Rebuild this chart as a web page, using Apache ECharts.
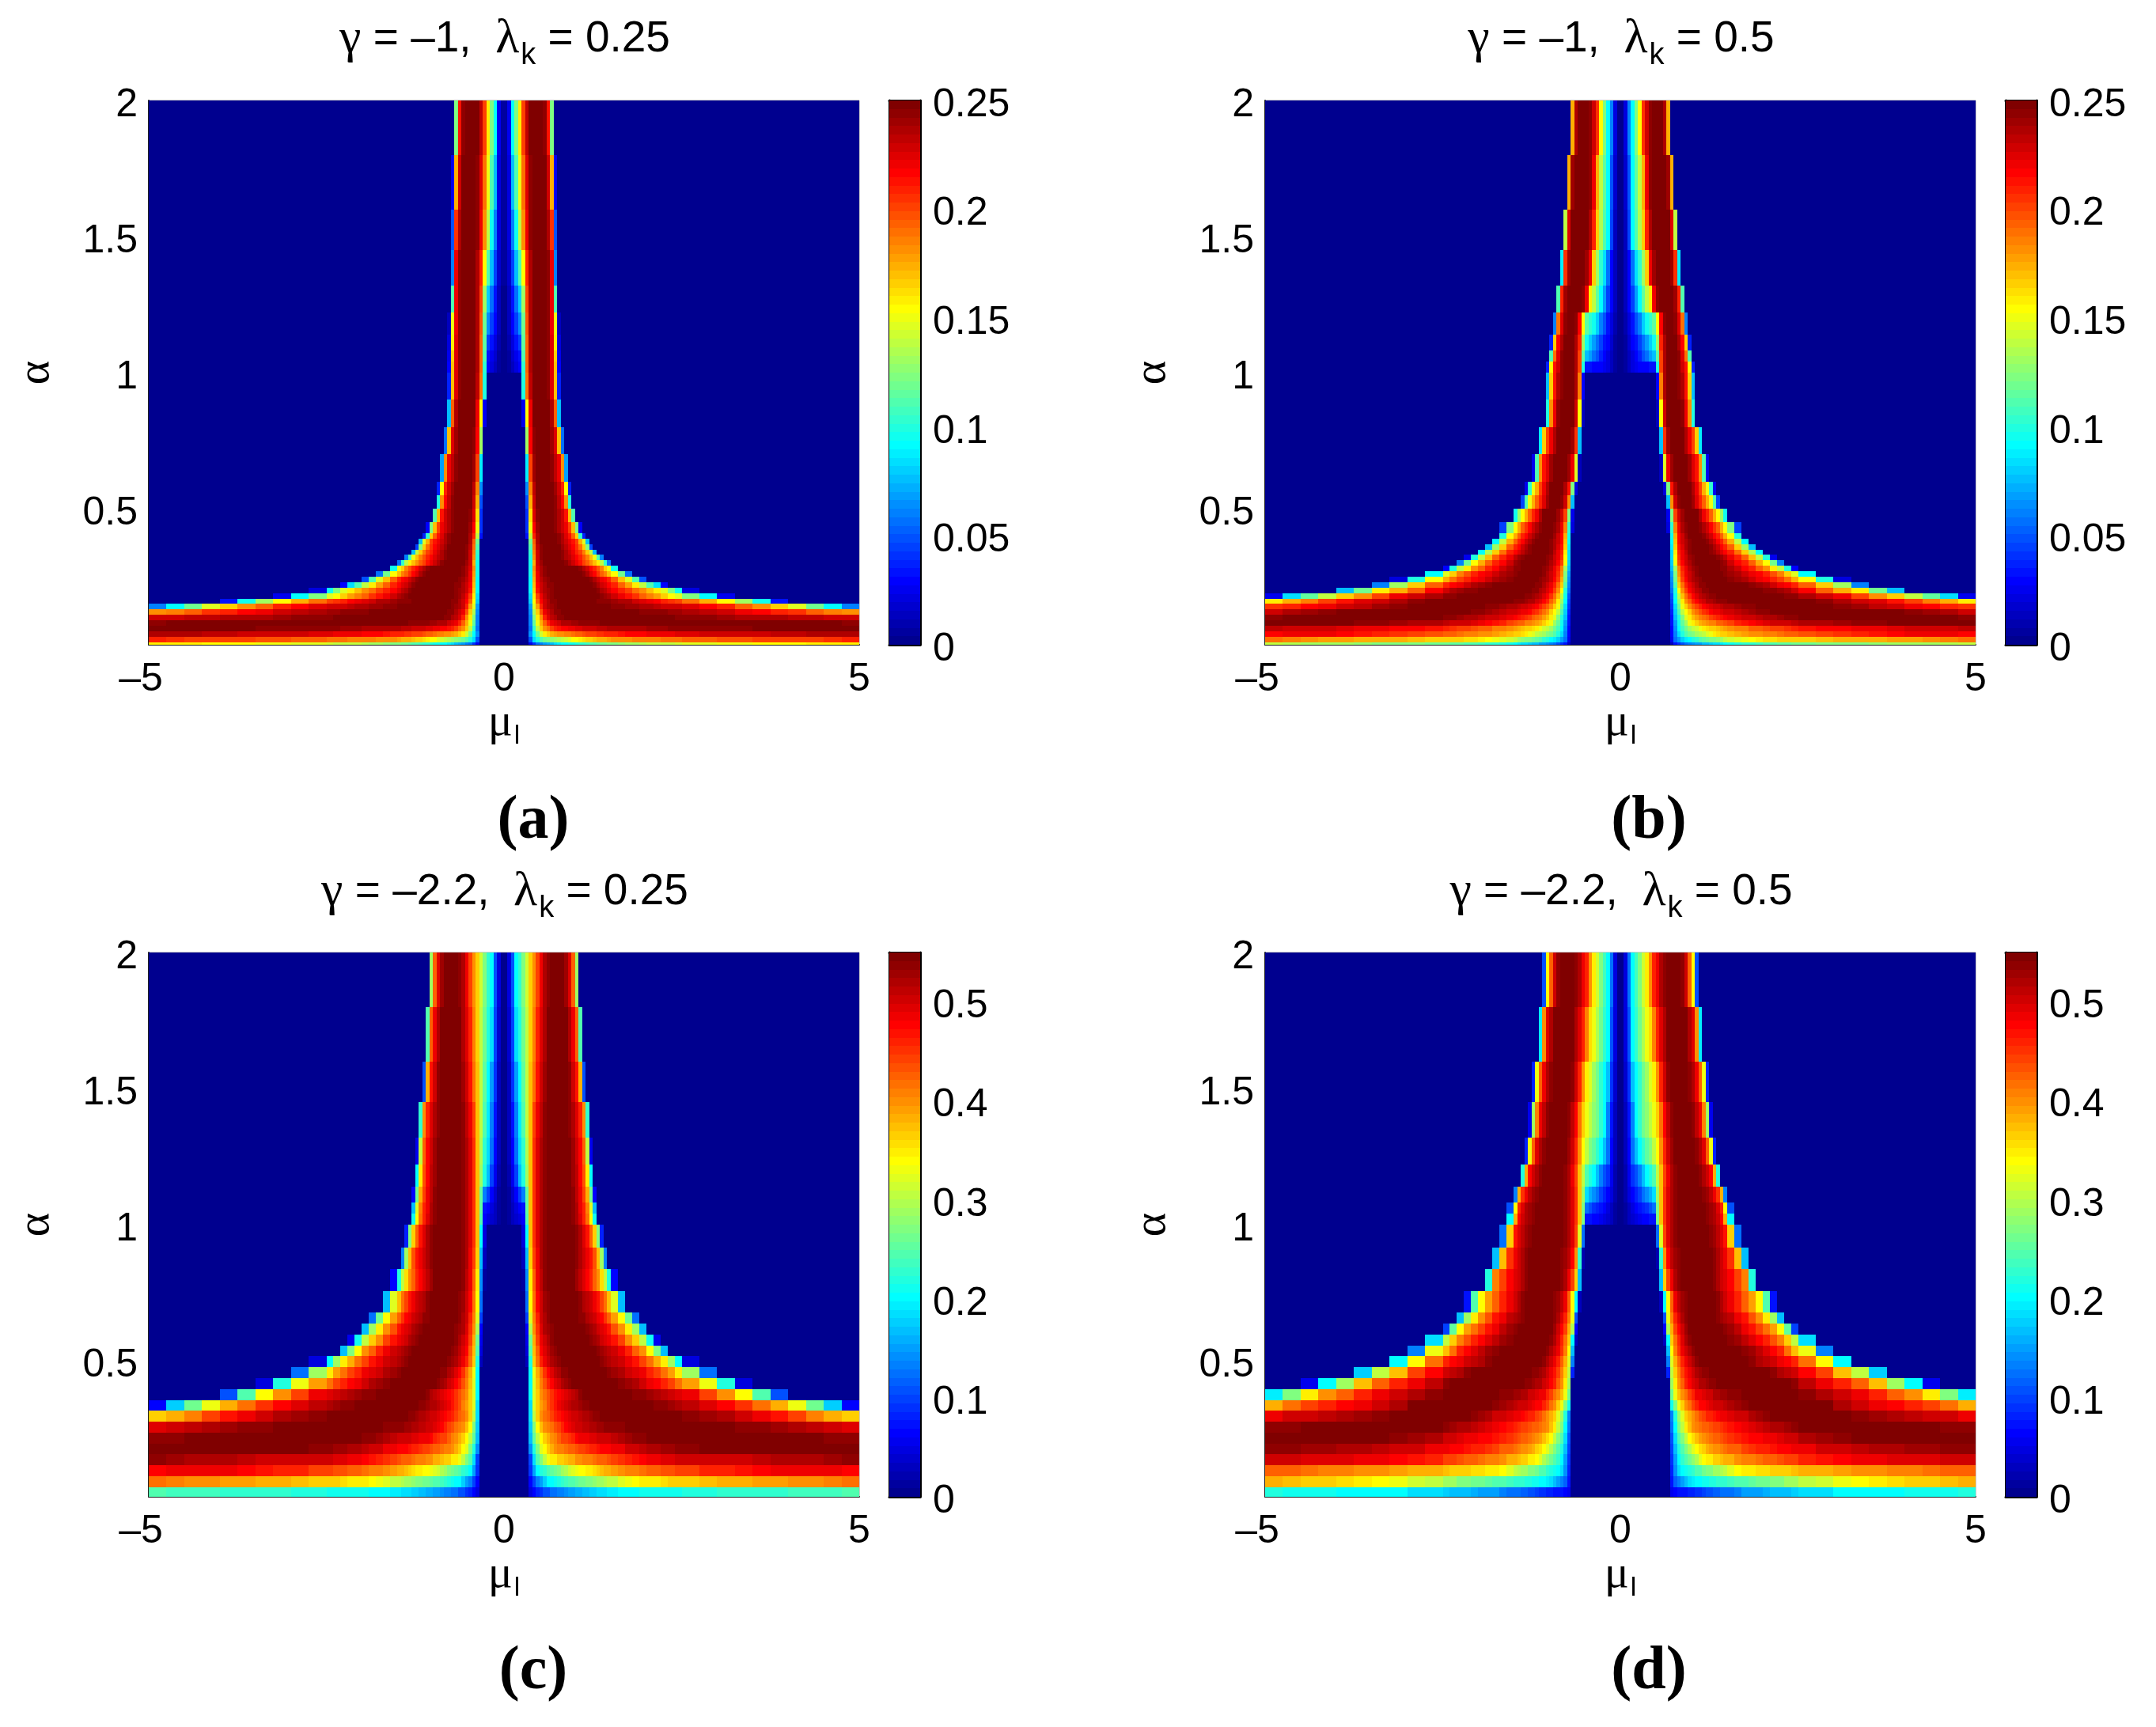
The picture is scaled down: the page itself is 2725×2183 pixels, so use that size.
<!DOCTYPE html>
<html><head><meta charset="utf-8">
<style>html,body{margin:0;padding:0;background:#fff}#c{width:2725px;height:2183px}</style>
<script src="https://cdn.jsdelivr.net/npm/echarts@6/dist/echarts.min.js"></script>
</head><body><div id="c"></div>
<script>
// half-axis cell bounds of mu (the picture is mirror-symmetric about mu = 0)
const muEdges=[0,.05,.1,.15,.2,.25,.3,.35,.4,.45,.5,.55,.6,.65,.7,.75,.8,.85,.9,.95,1,1.05,1.1,1.15,1.2,1.25,1.3,1.35,1.4,1.45,1.5,1.6,1.7,1.8,1.9,2,2.1,2.2,2.3,2.4,2.5,2.75,3,3.25,3.5,3.75,4,4.25,4.5,4.75,5];
const alphaEdgesAB=[0,.01,.03,.05,.07,.09,.11,.13,.15,.17,.19,.21,.23,.25,.27,.29,.31,.33,.35,.37,.39,.41,.45,.5,.55,.6,.7,.8,.9,1,1.04,1.08,1.14,1.22,1.32,1.45,1.6,1.8,2];
const alphaEdgesCD=[0,.036,.076,.116,.156,.196,.236,.276,.316,.356,.396,.436,.476,.516,.556,.596,.636,.676,.756,.836,.916,1,1.04,1.08,1.14,1.22,1.32,1.45,1.6,1.8,2];
const panelTitles=[['γ',' = –1,  ','λ','k',' = 0.25'],['γ',' = –1,  ','λ','k',' = 0.5'],['γ',' = –2.2,  ','λ','k',' = 0.25'],['γ',' = –2.2,  ','λ','k',' = 0.5']];
const panelCaptions=['(a)','(b)','(c)','(d)'];
const colorbarMax=[0.25,0.25,0.55,0.55];
const colorbarStep=[0.05,0.05,0.1,0.1];
// each row: [number of leading zero cells, then levels in % of the colorbar maximum]; bottom row first
const panelA=[
[7,10,17,22,25,27,29,31,33,35,36,37,38,39,40,41,42,43,44,45,46,47,48,49,50,51,52,53,54,55,55,56,56,57,58,59,60,60,61,62,62,63,63,64],
[7,20,33,40,45,48,50,51,53,54,56,57,59,61,62,64,65,66,67,68,69,70,70,71,72,72,73,74,74,75,75,76,76,76,77,78,79,79,80,80,81,81,82,83],
[7,26,36,48,57,63,66,69,71,72,73,74,75,76,77,78,79,80,80,81,82,82,83,83,84,85,86,86,87,88,88,89,89,90,90,91,91,92,92,93,93,94,94,94],
[7,22,42,55,66,72,76,80,83,85,86,87,88,89,90,90,91,91,92,92,93,93,93,94,94,94,95,95,95,96,96,96,97,97,97,98,98,98,99,99,99,100,100,100],
[7,24,46,60,70,78,84,88,90,92,94,95,95,96,96,97,97,97,98,98,98,99,99,99,99,100,100,100,100,100,100,100,100,100,100,100,100,100,100,100,100,100,99,98],
[7,24,50,63,73,84,90,93,95,97,98,99,99,100,100,100,100,100,100,100,100,100,100,100,100,100,100,100,100,100,99,99,99,98,98,97,96,95,95,94,93,93,92,91],
[7,26,54,67,79,88,92,95,97,98,99,100,100,100,100,100,100,100,100,100,100,100,100,100,100,100,99,99,98,98,97,97,96,96,94,93,91,89,87,84,82,78,75,73],
[7,28,58,71,84,91,94,96,98,99,100,100,100,100,100,100,100,100,100,100,100,100,100,99,98,97,96,96,95,94,93,92,91,91,90,86,83,78,73,66,58,48,37,24],
[7,32,62,77,87,92,95,97,98,99,100,100,100,100,100,100,100,100,99,99,98,98,97,97,96,95,94,92,90,88,86,84,82,80,76,69,61,52,38,14],
[7,34,64,81,89,93,96,97,99,100,100,100,100,100,100,100,100,100,100,99,99,98,96,95,92,89,85,82,78,75,71,66,62,58,50,37,10],
[7,36,66,85,91,94,96,98,99,100,100,100,100,100,100,100,100,100,100,100,98,95,93,90,87,84,80,76,72,68,64,58,50,38,8],
[7,36,68,87,92,95,97,98,99,100,100,100,100,100,100,100,100,100,99,97,95,92,90,87,83,78,71,64,55,45,33,12],
[7,37,70,88,93,96,98,99,100,100,100,100,100,100,100,100,100,99,97,95,92,89,86,83,77,68,58,45,20],
[7,38,71,89,94,97,99,100,100,100,100,100,100,100,100,99,97,94,90,86,82,78,74,68,62,48,22],
[7,38,72,90,95,98,100,100,100,100,100,100,100,100,100,98,95,91,87,83,79,74,67,60,38],
[7,38,70,91,96,99,100,100,100,100,99,97,95,92,89,85,81,77,73,68,63,56,42,22],
[7,40,72,92,97,100,100,100,100,100,98,95,93,90,87,83,79,74,68,60,45,25],
[7,42,74,92,98,100,100,100,100,99,97,94,91,88,84,80,74,67,55,30],
[7,45,76,93,98,100,100,100,100,99,96,93,90,86,82,76,66,50,18],
[7,48,78,94,99,100,100,100,100,98,95,92,89,85,80,70,58,30],
[6,14,56,84,95,100,100,100,100,99,97,94,90,85,78,66,42,15],
[6,16,60,86,96,100,100,100,100,98,95,92,88,81,68,50,12],
[6,17,65,90,98,100,100,100,100,98,95,91,85,68,45],
[6,20,70,92,99,100,100,100,100,97,93,87,72,40],
[6,26,75,93,100,100,100,100,99,96,91,83,62,15],
[6,35,80,96,100,100,100,100,98,93,88,72,28],
[6,52,86,98,100,100,100,99,96,90,68,22],
[5,10,62,89,99,100,100,100,99,94,78,30],
[5,40,76,93,100,100,100,100,98,90,68,15],
[0,0,3,6,9,11,42,78,94,100,100,100,100,98,90,68,12],
[0,0,3,7,10,14,44,78,94,100,100,100,100,98,90,66,10],
[0,1,4,8,13,18,46,78,94,100,100,100,100,98,90,64,8],
[0,1,5,11,18,26,48,79,94,100,100,100,100,98,89,60,6],
[0,1,6,13,22,32,52,80,94,100,100,100,100,97,88,45],
[0,2,7,18,30,44,62,84,95,100,100,100,100,97,88,25],
[0,2,8,24,38,56,72,88,97,100,100,100,99,95,82,20],
[0,2,9,30,44,60,76,90,98,100,100,100,99,92,70,10],
[0,2,10,36,50,64,80,93,99,100,100,100,98,85,50]
];
const panelB=[
[14,5,14,17,20,22,24,26,27,28,30,31,32,33,34,35,36,38,40,41,42,43,44,45,46,46,47,48,49,50,50,51,52,52,53,54,55],
[14,10,22,28,32,35,37,40,42,44,46,47,49,50,51,53,55,57,59,60,62,64,65,65,66,66,66,67,68,69,70,70,71,71,72,74,76],
[14,12,25,34,40,44,47,49,52,54,56,58,60,63,65,66,67,68,70,71,72,73,74,75,76,77,78,79,80,82,84,85,87,88,89,88,87],
[14,12,26,36,43,48,52,55,57,60,63,65,66,67,68,69,71,73,74,75,77,78,79,80,81,82,83,85,86,87,88,89,90,91,92,92,93],
[14,13,28,38,46,53,60,64,67,69,71,73,74,75,77,78,79,81,83,85,87,89,90,91,92,92,93,94,95,96,97,98,99,100,100,100,100],
[14,14,30,40,50,58,63,68,71,74,76,78,80,82,84,85,87,89,90,91,92,93,94,95,96,97,98,99,100,100,100,100,100,100,100,99,97],
[14,15,32,44,55,62,67,72,76,79,82,84,86,88,89,90,91,92,93,95,96,97,98,99,100,100,100,100,100,100,100,100,99,97,96,94,92],
[14,16,34,48,60,67,72,77,81,84,87,89,90,91,92,93,94,95,96,97,98,99,100,100,100,100,100,100,100,98,96,93,91,88,86,84,82],
[14,18,36,52,64,72,78,83,87,90,92,94,95,96,97,97,98,99,99,100,100,100,100,100,100,100,100,99,97,95,92,90,85,80,75,70,64],
[14,20,38,56,68,76,82,87,90,93,95,96,97,98,99,99,100,100,100,100,100,100,100,100,99,98,97,95,92,88,80,73,66,56,46,34,10],
[14,22,40,62,72,80,86,90,93,95,97,98,99,99,100,100,100,100,100,100,100,99,98,97,96,95,92,87,78,70,63,48,30],
[14,24,44,66,76,84,89,92,95,97,98,99,100,100,100,100,100,100,100,99,98,96,94,92,89,86,83,77,66,53,25],
[14,26,48,70,80,86,91,94,96,98,99,100,100,100,100,100,99,98,96,94,92,89,87,84,80,76,70,62,40,8],
[14,28,50,72,82,88,92,95,97,99,100,100,100,100,100,99,98,96,94,92,89,86,83,79,74,66,58,36],
[14,30,52,74,84,89,93,96,98,99,100,100,100,100,100,98,97,94,91,87,83,78,72,64,55,40,12],
[14,32,60,80,87,91,95,97,99,100,100,100,100,100,99,98,96,91,87,83,78,70,61,48,25],
[14,33,62,82,88,92,96,98,100,100,100,100,100,99,98,96,93,88,83,77,68,56,40,10],
[14,34,64,84,89,93,97,99,100,100,100,100,98,96,93,90,87,84,76,66,54,36],
[14,35,66,85,90,94,98,100,100,100,100,99,97,94,91,87,83,78,67,52,30],
[14,36,68,86,91,95,98,100,100,100,99,97,94,91,87,83,78,70,56,36],
[14,38,70,87,92,96,99,100,100,100,98,95,91,87,83,77,70,62,40],
[13,8,42,74,89,94,98,100,100,100,98,95,91,87,82,77,70,62,50,18],
[13,10,50,80,91,96,99,100,100,99,94,88,83,77,70,62,52,38],
[13,30,72,91,97,100,100,100,96,90,84,78,70,60,45,18],
[12,8,50,85,95,99,100,100,99,94,88,80,70,60,42,10],
[11,5,58,89,96,100,100,100,100,96,90,85,72,45,10],
[11,30,82,96,100,100,100,100,94,88,80,66,35],
[10,5,62,92,99,100,100,100,97,88,72,40],
[10,12,74,94,100,100,100,98,94,85,66,30],
[0,0,3,6,8,10,11,12,12,13,14,40,80,95,100,100,100,98,92,85,62,15],
[0,0,3,6,9,12,15,19,23,27,31,46,81,95,100,100,100,97,90,76,45],
[0,0,3,7,11,14,18,22,27,32,38,52,83,95,100,100,99,94,86,66,15],
[0,0,4,9,13,19,25,32,38,42,46,62,86,97,100,100,98,90,76,25],
[0,1,5,11,18,28,37,46,55,64,89,97,100,100,100,100,96,84,45],
[0,1,5,12,22,33,41,52,66,88,96,100,100,100,100,96,82,35],
[0,1,6,18,36,44,54,66,84,94,100,100,100,100,100,90,55],
[0,1,7,20,37,46,56,70,89,97,100,100,100,100,96,70],
[0,1,8,24,37,50,62,82,92,98,100,100,100,95,70]
];
const panelC=[
[7,9,12,15,17,19,20,22,23,24,25,26,27,28,29,29,30,31,32,32,33,34,34,35,35,36,36,37,38,38,38,39,39,39,40,40,41,41,42,42,43,43,43,44],
[7,12,18,24,28,32,36,37,38,40,42,43,44,45,46,47,48,49,50,51,52,53,54,55,56,58,60,62,63,64,64,65,66,66,67,68,69,70,71,71,72,73,74,76],
[7,16,28,36,40,42,44,46,48,50,52,54,57,59,60,61,62,63,64,65,67,68,69,70,71,73,74,75,76,77,78,79,79,80,81,83,84,85,87,88,89,89,88,87],
[7,18,34,44,50,56,60,63,64,66,67,68,69,70,72,73,74,74,75,76,77,77,78,79,81,82,84,85,86,88,89,90,90,91,91,91,92,92,93,94,94,95,96,97],
[7,26,40,50,58,62,67,70,72,74,75,76,77,78,79,80,81,82,83,84,85,86,86,87,88,89,91,92,93,94,95,96,96,97,98,99,100,100,100,100,100,100,100,100],
[7,30,46,56,62,66,69,72,75,78,80,81,82,84,86,88,89,89,90,90,91,91,92,92,93,95,96,97,98,99,100,100,100,100,100,100,100,100,100,100,100,100,98,97],
[7,32,50,62,68,72,74,76,79,81,84,86,89,90,91,92,93,93,94,95,96,96,97,97,98,98,100,100,100,100,100,100,100,100,100,100,99,98,97,96,95,93,92,90],
[7,34,55,66,72,76,78,80,83,85,87,89,90,91,92,93,94,95,96,97,98,99,100,100,100,100,100,100,100,100,100,100,100,99,98,96,94,92,89,85,81,75,70,66],
[7,34,58,66,71,75,79,82,85,88,90,91,93,94,95,96,97,98,100,100,100,100,100,100,100,100,100,100,100,99,98,97,96,95,93,90,87,82,76,70,60,48,32,12],
[7,36,58,67,72,76,79,82,85,87,89,90,92,93,95,97,99,100,100,100,100,100,100,100,100,100,100,98,97,96,95,93,92,90,88,80,72,62,44,20],
[7,36,58,68,74,79,83,87,90,92,94,96,98,99,100,100,100,100,100,100,100,100,100,100,99,98,96,94,91,88,86,83,80,76,71,60,40,8],
[7,36,60,69,76,82,86,90,93,95,97,98,99,100,100,100,100,100,100,100,100,100,100,98,96,94,92,90,88,84,80,76,71,64,52,22],
[6,5,40,66,76,84,88,91,94,96,98,99,100,100,100,100,100,100,100,100,100,99,98,96,95,93,91,89,85,81,76,70,63,52,37,8],
[6,8,44,68,78,86,90,93,96,98,99,100,100,100,100,100,100,100,100,100,99,98,96,95,93,91,88,84,78,72,62,50,30],
[6,10,48,70,80,88,92,95,97,99,100,100,100,100,100,100,100,100,99,98,96,94,92,90,88,85,80,73,66,55,38,10],
[6,12,54,72,82,90,94,96,98,100,100,100,100,100,100,100,100,99,98,96,94,92,90,88,85,79,72,64,52,30],
[6,18,58,74,84,91,95,97,99,100,100,100,100,100,100,100,98,97,95,93,91,89,86,82,78,71,62,48,22],
[6,22,62,76,86,92,96,98,100,100,100,100,100,100,100,99,97,95,93,91,88,85,81,76,68,58,30],
[5,3,26,64,78,88,93,97,99,100,100,100,100,100,100,99,96,93,90,87,83,78,73,65,55,40,12],
[5,6,30,66,80,89,94,97,99,100,100,100,100,100,100,99,97,95,92,89,85,79,68,52,25],
[5,8,36,68,82,90,95,98,100,100,100,100,100,100,100,99,97,94,90,85,78,66,50,15],
[0,0,2,5,7,9,11,44,68,82,90,95,98,100,100,100,100,100,100,99,97,94,90,84,76,62,38],
[0,0,3,6,9,12,14,46,68,82,90,95,98,100,100,100,100,100,100,99,97,94,89,83,74,58,30],
[0,0,3,7,11,18,24,46,68,82,90,95,98,100,100,100,100,100,100,99,97,93,88,81,70,48,12],
[0,0,4,10,18,30,40,52,68,82,90,95,98,100,100,100,100,100,100,99,96,93,87,79,64,36],
[0,0,5,12,22,33,42,54,68,82,90,95,98,100,100,100,100,100,100,99,96,92,86,77,55,10],
[0,1,5,14,25,35,44,56,68,80,88,93,97,100,100,100,100,100,100,98,95,90,84,72,42],
[0,1,6,16,28,37,46,56,68,76,85,91,96,99,100,100,100,100,100,97,91,85,70,20],
[0,1,7,18,33,40,47,56,67,74,83,90,95,99,100,100,100,100,99,95,88,78,45],
[0,1,8,20,36,42,49,57,66,72,80,89,94,98,100,100,100,99,96,90,78,52]
];
const panelD=[
[14,10,12,13,14,14,15,15,16,17,18,19,20,21,21,22,22,23,24,27,28,28,29,30,30,31,32,33,34,36,36,36,37,38,39,39,40],
[14,14,21,25,28,30,33,35,36,37,38,39,40,40,41,42,42,43,44,45,46,47,48,49,50,52,53,55,57,60,62,64,65,66,67,68,69],
[14,15,26,33,36,38,40,42,44,45,47,49,50,52,53,54,56,58,61,63,64,65,65,66,67,67,68,69,70,71,72,73,74,75,76,77,78],
[14,16,28,37,42,45,48,51,54,58,61,63,64,66,67,68,69,70,72,74,75,76,77,78,79,80,81,83,85,87,88,89,90,90,90,91,92],
[14,18,30,40,45,50,54,58,62,65,67,69,71,72,73,75,76,77,78,80,82,83,84,85,86,87,88,89,91,92,93,94,95,96,96,97,97],
[14,20,34,45,50,56,62,65,68,71,73,75,76,77,78,79,80,82,84,85,86,87,88,89,90,91,92,94,96,98,100,100,100,100,100,100,100],
[14,22,36,50,56,64,68,72,74,76,77,78,79,80,81,82,83,85,87,89,90,92,93,94,95,96,97,99,100,100,100,100,100,100,100,98,97],
[14,24,40,52,58,66,70,73,76,79,81,83,84,85,86,88,89,90,91,92,94,96,98,100,100,100,100,100,100,100,98,96,94,93,92,91,89],
[14,38,50,60,66,72,76,80,84,86,87,89,90,91,92,92,93,95,96,97,99,100,100,100,100,100,100,100,99,94,92,89,86,84,80,76,70],
[14,48,60,68,72,76,80,83,88,89,90,91,92,94,95,96,96,97,98,100,100,100,100,100,100,100,100,97,94,91,89,84,78,72,64,50,35],
[14,52,64,72,78,83,87,90,92,94,95,96,97,98,99,99,100,100,100,100,100,100,100,100,99,99,97,93,89,84,78,68,52,36,10],
[13,15,55,66,74,80,85,89,92,94,96,97,98,99,100,100,100,100,100,100,100,100,100,99,97,95,93,91,87,80,68,55,32],
[13,25,58,70,78,84,89,92,95,97,99,100,100,100,100,100,100,100,100,100,99,97,95,93,91,89,86,83,76,62,36],
[13,30,62,74,82,88,92,95,97,99,100,100,100,100,100,100,100,100,100,100,98,96,93,90,87,83,76,68,60,25],
[12,5,36,66,76,84,90,94,97,99,100,100,100,100,100,100,100,100,99,98,96,93,90,87,83,79,74,66,56,34],
[12,12,54,70,80,87,92,96,99,100,100,100,100,100,100,100,100,99,98,96,93,89,85,81,76,71,62,46,18],
[12,20,60,74,84,90,94,97,100,100,100,100,100,100,100,100,98,96,94,93,89,85,79,72,64,52,30],
[11,5,36,62,78,89,93,96,98,100,100,100,100,100,100,100,99,97,95,92,89,84,78,71,62,45,14],
[11,30,66,80,89,94,97,99,100,100,100,100,100,100,100,99,97,95,92,90,87,81,74,40],
[10,4,42,72,86,93,96,98,100,100,100,100,100,100,100,100,99,97,95,92,88,82,68,30],
[10,22,58,80,90,95,98,100,100,100,100,100,100,100,100,99,98,96,93,90,85,66,22],
[0,0,2,5,7,9,10,11,12,13,14,50,68,82,90,95,98,100,100,100,100,100,100,100,100,98,96,94,91,86,70,36],
[0,0,3,6,9,11,13,15,17,19,22,50,68,82,90,95,98,100,100,100,100,100,100,100,100,98,96,94,90,84,62,20],
[0,0,4,8,12,15,18,22,26,29,33,52,68,82,90,95,98,100,100,100,100,100,100,100,98,96,93,89,82,70,25],
[0,0,4,10,16,20,25,30,36,40,44,56,68,80,89,94,97,100,100,100,100,100,99,97,95,92,87,70,40],
[0,1,5,12,22,30,37,42,46,50,55,62,72,84,91,96,99,100,100,100,100,100,98,95,90,78,60,15],
[0,1,5,13,25,36,42,47,51,55,60,66,76,87,93,97,100,100,100,100,100,97,93,89,75,52,10],
[0,1,7,16,30,37,42,48,52,58,63,72,84,92,97,100,100,100,100,100,98,95,89,78,60,15],
[0,1,8,20,36,42,48,54,60,65,75,84,90,95,99,100,100,100,100,99,94,90,72,35],
[0,1,9,22,36,43,50,57,63,72,83,89,94,98,100,100,100,100,97,91,78,62,20]
];

const panelRows=[panelA,panelB,panelC,panelD];
const panelAlpha=[alphaEdgesAB,alphaEdgesAB,alphaEdgesCD,alphaEdgesCD];
const FONT='"Liberation Sans",Arial,sans-serif';
const GREEK='"Liberation Serif",serif';
const BLACK='#000';
const boxes=[{l:188,t:127,cx:638,capx:674,titleY:19,capY:1000},{l:1599,t:127,cx:2049,capx:2084,titleY:19,capY:1000},{l:188,t:1204,cx:638,capx:674,titleY:1097,capY:2075},{l:1599,t:1204,cx:2049,capx:2084,titleY:1097,capY:2075}];
const PW=898,PH=688,CBX=937,CBW=39;

function jet(i){const t=(i+1)/64,c=v=>Math.round(255*Math.max(0,Math.min(1,v)));
  const r=c(1.5-Math.abs(4*t-3)),g=c(1.5-Math.abs(4*t-2)),b=c(1.5-Math.abs(4*t-1));
  return `rgb(${r},${g},${b})`;}
function cellsFor(p){
  const M=colorbarMax[p],rows=panelRows[p],ae=panelAlpha[p],out=[],n=muEdges.length-1;
  rows.forEach((row,r)=>{
    const lead=row[0];
    for(let i=0;i<n;i++){
      const lv=(i>=lead&&i-lead+1<row.length)?row[i-lead+1]:0, v=lv/100*M;
      out.push([muEdges[i],muEdges[i+1],ae[r],ae[r+1],v]);
      out.push([-muEdges[i+1],-muEdges[i],ae[r],ae[r+1],v]);
    }
  });
  return out;
}
function barCells(p){const M=colorbarMax[p],o=[];for(let i=0;i<64;i++)o.push([0,1,i/64*M,(i+1)/64*M,(i+.5)/64*M]);return o;}
function renderCell(params,api){
  const a=api.coord([api.value(0),api.value(3)]),b=api.coord([api.value(1),api.value(2)]);
  const x=Math.round(a[0]),y=Math.round(a[1]),w=Math.round(b[0])-x,h=Math.round(b[1])-y;
  return {type:'rect',shape:{x,y,width:w,height:h},style:{fill:api.visual('color')}};
}
const fmt=v=>String(+v.toFixed(2));
const tickRich={v:{fontFamily:FONT,fontSize:50,color:BLACK,padding:[12,0,0,0]}};
const grid=[],xAxis=[],yAxis=[],series=[],visualMap=[],title=[];
boxes.forEach((b,p)=>{
  const M=colorbarMax[p],S=colorbarStep[p];
  const gMain=grid.length;
  grid.push({left:b.l,top:b.t,width:PW,height:PH,show:true,backgroundColor:'rgb(0,0,143)',borderColor:'#999',borderWidth:1});
  const xMain=xAxis.length,yMain=yAxis.length;
  xAxis.push({gridIndex:gMain,type:'value',min:-5,max:5,interval:5,
    name:'{m|μ}{s|l}',nameLocation:'middle',nameGap:58,
    nameTextStyle:{rich:{m:{fontFamily:GREEK,fontSize:58,color:BLACK,padding:[0,0,10,0]},s:{fontFamily:FONT,fontSize:34,color:BLACK,padding:[24,0,0,2]}}},
    axisLine:{onZero:false,lineStyle:{color:'#222',width:2}},axisTick:{show:false},splitLine:{show:false},
    axisLabel:{margin:19,fontFamily:FONT,fontSize:50,color:BLACK,formatter:v=>v<0?'–'+Math.abs(v)+'\u2009\u2009':String(v)}});
  yAxis.push({gridIndex:gMain,type:'value',min:0,max:2,interval:.5,
    name:'α',nameLocation:'middle',nameGap:113,nameRotate:90,nameTextStyle:{fontFamily:GREEK,fontSize:58,color:BLACK},
    axisLine:{onZero:false,lineStyle:{color:'#222',width:2}},axisTick:{show:false},splitLine:{show:false},
    axisLabel:{margin:14,rich:tickRich,formatter:v=>v===0?'':`{v|${fmt(v)}}`}});
  const sMain=series.length;
  series.push({type:'custom',xAxisIndex:xMain,yAxisIndex:yMain,coordinateSystem:'cartesian2d',renderItem:renderCell,
    data:cellsFor(p),encode:{x:[0,1],y:[2,3]},animation:false,progressive:0,clip:true,silent:true});
  // colorbar
  const gBar=grid.length;
  grid.push({left:b.l+CBX-1,top:b.t,width:CBW,height:PH});
  const xBar=xAxis.length;
  xAxis.push({gridIndex:gBar,type:'value',min:0,max:1,axisLine:{onZero:false,lineStyle:{color:BLACK,width:3}},axisTick:{show:false},axisLabel:{show:false},splitLine:{show:false}});
  xAxis.push({gridIndex:gBar,type:'value',min:0,max:1,position:'top',axisLine:{onZero:false,lineStyle:{color:BLACK,width:3}},axisTick:{show:false},axisLabel:{show:false},splitLine:{show:false}});
  const yBar=yAxis.length;
  yAxis.push({gridIndex:gBar,type:'value',position:'right',min:0,max:M,interval:S,
    axisLine:{onZero:false,lineStyle:{color:BLACK,width:3}},axisTick:{inside:true,length:8,lineStyle:{color:BLACK,width:2}},splitLine:{show:false},
    axisLabel:{margin:16,rich:tickRich,formatter:v=>v>M-S/2&&M===0.55?'':`{v|${fmt(v)}}`}});
  yAxis.push({gridIndex:gBar,type:'value',position:'left',min:0,max:M,interval:S,
    axisLine:{onZero:false,lineStyle:{color:BLACK,width:3}},axisTick:{inside:true,length:8,lineStyle:{color:BLACK,width:2}},axisLabel:{show:false},splitLine:{show:false}});
  const sBar=series.length;
  series.push({type:'custom',xAxisIndex:xBar,yAxisIndex:yBar,coordinateSystem:'cartesian2d',renderItem:renderCell,
    data:barCells(p),encode:{x:[0,1],y:[2,3]},animation:false,progressive:0,silent:true});
  const pieces=[];for(let i=0;i<64;i++)pieces.push({min:i/64*M,max:(i+1)/64*M,color:jet(i)});
  visualMap.push({type:'piecewise',show:false,dimension:4,seriesIndex:[sMain,sBar],pieces});
  const tt=panelTitles[p];
  title.push({text:`{g|${tt[0]}}{a|${tt[1]}}{g|${tt[2]}}{b|${tt[3]}}{a|${tt[4]}}`,left:b.cx,top:b.titleY,textAlign:'center',padding:0,
    textStyle:{fontWeight:'normal',rich:{
      g:{fontFamily:GREEK,fontWeight:'normal',fontSize:62,color:BLACK,padding:[0,0,14,0]},
      a:{fontFamily:FONT,fontWeight:'normal',fontSize:55,color:BLACK,padding:[0,0,14,0]},
      b:{fontFamily:FONT,fontWeight:'normal',fontSize:38,color:BLACK,padding:[28,0,0,2]}}}});
  title.push({text:panelCaptions[p],left:b.capx,top:b.capY,textAlign:'center',padding:0,
    textStyle:{fontFamily:GREEK,fontWeight:'bold',fontSize:78,color:BLACK}});
});
const chart=echarts.init(document.getElementById('c'),null,{renderer:'canvas',width:2725,height:2183});
chart.setOption({animation:false,backgroundColor:'#fff',title,grid,xAxis,yAxis,visualMap,series});
</script></body></html>
